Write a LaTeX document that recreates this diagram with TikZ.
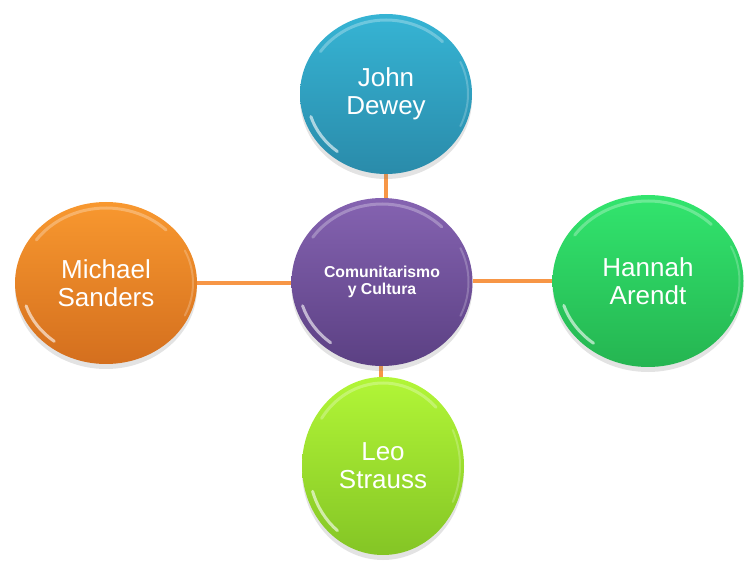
\documentclass[tikz,border=0pt]{standalone}
\usepackage{fontspec}
\setmainfont{Liberation Sans}
\usetikzlibrary{shapes.geometric,shadows,backgrounds,calc}
\definecolor{conn}{HTML}{F79646}
\definecolor{purpTop}{HTML}{8563B1}
\definecolor{purpBot}{HTML}{5B4083}
\definecolor{blueTop}{HTML}{36B4D4}
\definecolor{blueBot}{HTML}{2A8BAA}
\definecolor{greenTop}{HTML}{32E56E}
\definecolor{greenBot}{HTML}{25B551}
\definecolor{orangeTop}{HTML}{F8982F}
\definecolor{orangeBot}{HTML}{D46F1E}
\definecolor{limeTop}{HTML}{B2F637}
\definecolor{limeBot}{HTML}{84C525}
\newcommand{\gloss}[3]{%
  \draw[white, opacity=.28, line width=3pt, line cap=round]
    ($(#1.center)+(45:{#2-6} and {#3-6})$) arc[start angle=45, end angle=145, x radius=#2-6, y radius=#3-6];
  \draw[white, opacity=.6, line width=3pt, line cap=round]
    ($(#1.center)+(198:{#2-7} and {#3-7})$) arc[start angle=198, end angle=232, x radius=#2-7, y radius=#3-7];
  \draw[white, opacity=.22, line width=2pt, line cap=round]
    ($(#1.center)+(-25:{#2-4} and {#3-4})$) arc[start angle=-25, end angle=25, x radius=#2-4, y radius=#3-4];
}
\begin{document}
\begin{tikzpicture}[x=1pt,y=1pt,
  ball/.style={ellipse, inner sep=0pt, text=white, align=center,
    font=\fontsize{26}{28}\selectfont,
    drop shadow={opacity=0.22, shadow xshift=0pt, shadow yshift=-5pt}},
  link/.style={draw=conn, line width=3.5pt}]
\useasboundingbox (0,0) rectangle (752,560);
\node[ball, minimum width=181pt, minimum height=168pt, top color=purpTop, bottom color=purpBot,
  font=\bfseries\fontsize{15.8}{17}\selectfont] (center) at (382,278) {Comunitarismo\\y Cultura};
\node[ball, minimum width=172pt, minimum height=160pt, top color=blueTop, bottom color=blueBot] (dewey) at (386,466) {John\\Dewey};
\node[ball, minimum width=191pt, minimum height=172pt, top color=greenTop, bottom color=greenBot] (arendt) at (648,279) {Hannah\\Arendt};
\node[ball, minimum width=182pt, minimum height=162pt, top color=orangeTop, bottom color=orangeBot] (sanders) at (106,277) {Michael\\Sanders};
\node[ball, minimum width=162pt, minimum height=178pt, top color=limeTop, bottom color=limeBot] (strauss) at (383,94) {Leo\\Strauss};
\gloss{center}{90.5}{84}
\gloss{dewey}{86}{80}
\gloss{arendt}{95.5}{86}
\gloss{sanders}{91}{81}
\gloss{strauss}{81}{89}
\begin{scope}[on background layer]
  \draw[link] (dewey.south) -- (dewey.south |- center.north);
  \draw[link] (strauss.north -| 381,0) -- (center.south -| 381,0);
  \draw[link] (sanders.east) -- (sanders.east -| center.west);
  \draw[link] (arendt.west) -- (arendt.west -| center.east);
\end{scope}
\end{tikzpicture}
\end{document}
